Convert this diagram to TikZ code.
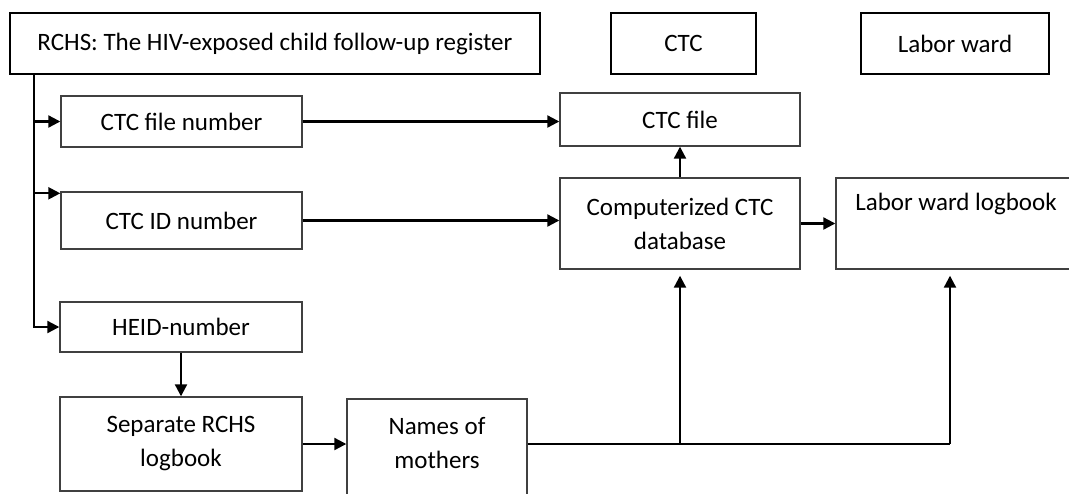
\documentclass[tikz,border=0pt]{standalone}
\usepackage{fontspec}
\setmainfont{Carlito}
\usetikzlibrary{positioning, arrows.meta}
\tikzset{
    x=1pt, y=1pt, % one unit is one pixel of the picture
    >={Triangle[length=12pt,width=12pt]}, % filled arrow heads
    every node/.style={font=\fontsize{25}{34}\selectfont, align=center, inner sep=0pt},
    head/.style={draw, line width=2.6pt, minimum height=61}, % the three boxes on top
    box/.style={draw=black!75, line width=1.4pt}, % the other boxes
    link/.style={line width=2.2pt}, % connectors
}
\begin{document}
\begin{tikzpicture}
    \useasboundingbox (0,0) rectangle (1069,-493);
    % top row
    \node[head, minimum width=530] (rchs) at (275,-43.5) {RCHS: The HIV-exposed child follow-up register};
    \node[head, minimum width=145] (ctc) at (683.5,-43.5) {CTC};
    \node[head, minimum width=188] (labor) at (955,-43.5) {Labor ward};
    % left column
    \node[box, minimum width=241, minimum height=51] (filenum) at (181.5,-121.5) {CTC file number};
    \node[box, minimum width=241, minimum height=57] (idnum) at (181.5,-220.5) {CTC ID number};
    \node[box, minimum width=242, minimum height=50] (heid) at (181,-327) {HEID-number};
    \node[box, minimum width=242, minimum height=94] (logrchs) at (181,-444) {Separate RCHS\\logbook};
    \node[box, minimum width=180, minimum height=120] (names) at (437,-459) {};
    \node at (437,-443) {Names of\\mothers};
    % right part
    \node[box, minimum width=240, minimum height=53] (file) at (680,-119.5) {CTC file};
    \node[box, minimum width=240, minimum height=91] (comp) at (680,-223.5) {Computerized CTC\\database};
    \node[box, minimum width=240, minimum height=91] (laborlog) at (956,-223.5) {Labor ward logbook\\\strut};
    \coordinate (trunk) at (34,-74);
    \coordinate (j1) at (680,-444);
    \coordinate (j2) at (950,-444);

    \draw[link, ->] (trunk) |- (filenum.west);
    \draw[link, ->] (trunk) |- ([yshift=-2]idnum.north west);
    \draw[link, ->] (trunk) |- (heid.west);
    \draw[link, ->] (heid.south) -- (logrchs.north);
    \draw[link, ->] (logrchs.east) -- (logrchs.east -| names.west);
    \draw[link] (logrchs.east -| names.east) -- (j2);
    \draw[link, ->, shorten >=6pt] (j1) -- (comp.south);
    \draw[link, ->, shorten >=6pt] (j2) -- (j2 |- laborlog.south);
    \draw[link, ->] (filenum.east) -- (filenum.east -| file.west);
    \draw[link, ->] (idnum.east) -- (idnum.east -| comp.west);
    \draw[link, ->] (comp.east) -- (laborlog.west);
    \draw[link, ->] (comp.north) -- (file.south);
\end{tikzpicture}
\end{document}
